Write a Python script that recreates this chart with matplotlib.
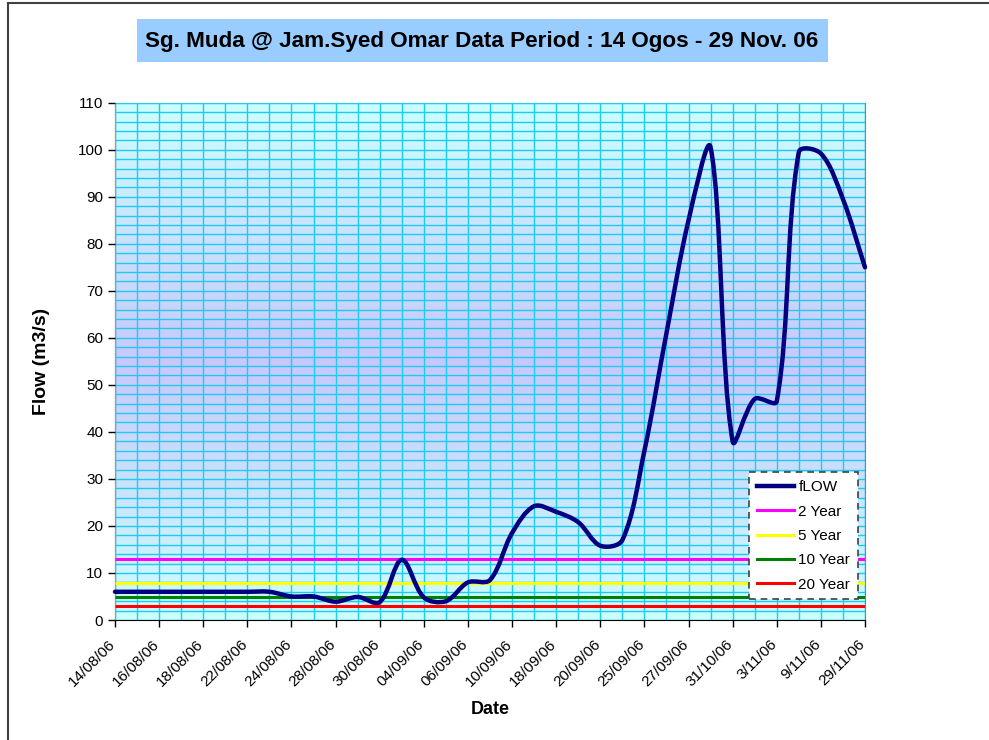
import numpy as np
import matplotlib
matplotlib.use('Agg')
import matplotlib.pyplot as plt
import matplotlib.transforms as mtransforms
from matplotlib.path import Path
from matplotlib.patches import PathPatch, Rectangle
from matplotlib.lines import Line2D

plt.rcParams['font.family'] = ['Liberation Sans', 'DejaVu Sans']

# flow readings, one per category (35 categories, every other one labelled)
flow = [6, 6, 6, 6, 6, 6, 6, 6, 5, 5,
        3.9, 4.9, 3.8, 12.8, 4.8, 4.0, 8.0, 8.5, 18.5, 24.2,
        23, 20.8, 15.8, 17, 36, 61, 85, 100.5, 38, 47,
        46.5, 99.5, 99.2, 89.5, 75]

tick_labels = ['14/08/06', '16/08/06', '18/08/06', '22/08/06', '24/08/06', '28/08/06',
               '30/08/06', '04/09/06', '06/09/06', '10/09/06', '18/09/06', '20/09/06',
               '25/09/06', '27/09/06', '31/10/06', '3/11/06', '9/11/06', '29/11/06']

return_names = ['2 Year', '5 Year', '10 Year', '20 Year']
return_flows = [13, 7.8, 4.8, 3.0]
return_colors = ['#FF00FF', '#FFFF00', '#008000', '#FF0000']


def smooth_path(xs, ys, sx, sy):
    # smoothed line: cubic segments, tangents scaled by neighbouring
    # segment lengths on screen (sx, sy = pixels per data unit)
    pts = np.column_stack([xs, ys]).astype(float)
    scr = pts * np.array([sx, sy])
    n = len(pts)
    c_out = np.zeros_like(pts)
    c_in = np.zeros_like(pts)
    for i in range(n):
        a = max(i - 1, 0)
        b = min(i + 1, n - 1)
        d = pts[b] - pts[a]
        la = np.hypot(*(scr[i] - scr[a]))
        lb = np.hypot(*(scr[b] - scr[i]))
        tot = la + lb if la + lb > 0 else 1
        c_out[i] = pts[i] + d * lb / tot / 3.0
        c_in[i] = pts[i] - d * la / tot / 3.0
    verts = [pts[0]]
    codes = [Path.MOVETO]
    for i in range(n - 1):
        verts += [c_out[i], c_in[i + 1], pts[i + 1]]
        codes += [Path.CURVE4] * 3
    return Path(verts, codes)


fig = plt.figure(figsize=(9.89, 7.40), dpi=100)
ax = fig.add_axes([115 / 989, 1 - 620 / 740, 750 / 989, (620 - 102.7) / 740])

n = len(flow)
x = np.arange(n)
ax.set_xlim(0, n - 1)
ax.set_ylim(0, 110)

# background gradient cyan -> lavender -> cyan
t = np.linspace(0, 1, 256)
w = 1 - np.abs(t - 0.5) * 2
top = np.array([204, 255, 255]) / 255
mid = np.array([200, 200, 252]) / 255
grad = top[None, :] * (1 - w[:, None]) + mid[None, :] * w[:, None]
ax.imshow(grad[:, None, :], extent=[0, n - 1, 0, 110], aspect='auto', zorder=0)

# grid
ax.set_xticks(np.arange(0, n, 2))
ax.set_xticks(np.arange(0, n, 1), minor=True)
ax.set_yticks(np.arange(0, 111, 10))
ax.set_yticks(np.arange(0, 111, 2), minor=True)
ax.grid(which='both', color='#1CCCF0', linewidth=1.0, zorder=1)
ax.set_axisbelow(False)
ax.tick_params(which='minor', length=0)
ax.tick_params(which='major', direction='out', length=5, width=1, labelsize=11, colors='black')
ax.set_xticklabels(tick_labels, rotation=45, ha='right', va='top', rotation_mode='anchor')
shift = mtransforms.ScaledTranslation(-0.07, -0.05, fig.dpi_scale_trans)
for lab in ax.get_xticklabels():
    lab.set_transform(lab.get_transform() + shift)

for side in ['top', 'right']:
    ax.spines[side].set_color('#808080')
for side in ['left', 'bottom']:
    ax.spines[side].set_color('black')

# return period lines
handles = []
for name, val, col in zip(return_names, return_flows, return_colors):
    ax.plot([0, n - 1], [val, val], color=col, linewidth=2.2, zorder=3, solid_capstyle='butt')
    handles.append(Line2D([], [], color=col, linewidth=2.2, label=name))

sx = 750 / (n - 1)
sy = (620 - 102.7) / 110
patch = PathPatch(smooth_path(x, flow, sx, sy), facecolor='none', edgecolor='#000080',
                  linewidth=3.2, zorder=4, capstyle='round', joinstyle='round', clip_on=False)
ax.add_patch(patch)
handles.insert(0, Line2D([], [], color='#000080', linewidth=3.2, label='fLOW'))

leg = ax.legend(handles=handles, loc='lower right', bbox_to_anchor=(0.9905, 0.04),
                fontsize=11, frameon=True, fancybox=False, handlelength=2.4,
                handletextpad=0.3, borderpad=0.5, labelspacing=0.68,
                borderaxespad=0)
leg.get_frame().set_edgecolor('#404040')
leg.get_frame().set_linestyle((0, (4, 3)))
leg.get_frame().set_linewidth(1.2)
leg.get_frame().set_facecolor('white')
leg.get_frame().set_alpha(1)
leg.set_zorder(5)

ax.set_xlabel('Date', fontsize=13, fontweight='bold', labelpad=9)
ax.set_ylabel('Flow (m3/s)', fontsize=14, fontweight='bold', labelpad=20)

# title box
fig.patches.append(Rectangle((137 / 989, 1 - 62 / 740), (828 - 137) / 989, 43 / 740,
                             transform=fig.transFigure, facecolor='#99CCFF',
                             edgecolor='none', zorder=0))
fig.text(482 / 989, 1 - 41 / 740, 'Sg. Muda @ Jam.Syed Omar Data Period : 14 Ogos - 29 Nov. 06',
         ha='center', va='center', fontsize=16.2, fontweight='bold')

# chart border (cropped)
fig.add_artist(Line2D([8 / 989, 8 / 989], [0, 1 - 3 / 740], transform=fig.transFigure,
                      color='#404040', linewidth=1.5))
fig.add_artist(Line2D([8 / 989, 1], [1 - 3 / 740, 1 - 3 / 740], transform=fig.transFigure,
                      color='#404040', linewidth=1.5))

fig.savefig('out.png', dpi=100)
